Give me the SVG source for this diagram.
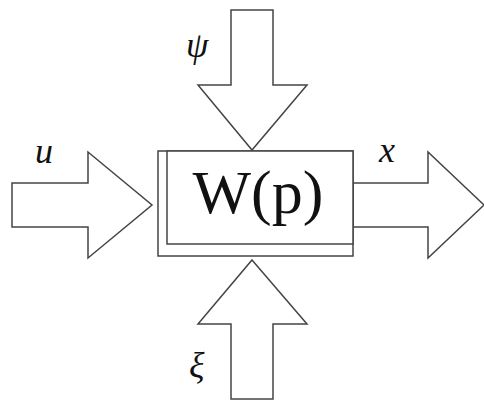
<svg xmlns="http://www.w3.org/2000/svg" width="484" height="401" viewBox="0 0 484 401">
<style>
.ar{fill:#fff;stroke:#444;stroke-width:1.5;stroke-linejoin:miter}
.bx{fill:#fff;stroke:#444;stroke-width:1.5}
.lb{font-family:"Liberation Serif",serif;font-style:italic;font-size:36px;fill:#111}
.tt{font-family:"Liberation Serif",serif;font-size:62px;fill:#111}
</style>
<rect width="484" height="401" fill="#fff"/>
<g id="connectors">
<polygon id="arrow-u" class="ar" points="12,183 88,183 88,152 152,205 88,258 88,227 12,227"/>
<polygon id="arrow-x" class="ar" points="353,183 428,183 428,152 484,205 428,258 428,227 353,227"/>
<polygon id="arrow-psi" class="ar" points="231,10 273,10 273,85 307,85 252,150 198,85 231,85"/>
<polygon id="arrow-xi" class="ar" points="252,260 307,324 273,324 273,399 231,399 231,324 198,324"/>
</g>
<g id="node-W">
<rect class="bx" x="158" y="151" width="195" height="105"/>
<rect class="bx" x="167" y="151" width="186" height="93"/>
<text class="tt" x="258" y="213" text-anchor="middle">W(p)</text>
</g>
<g id="labels">
<text class="lb" x="35" y="163">u</text>
<text class="lb" x="379" y="162">x</text>
<text class="lb" x="186" y="57">ψ</text>
<text class="lb" x="189" y="377">ξ</text>
</g>
</svg>
